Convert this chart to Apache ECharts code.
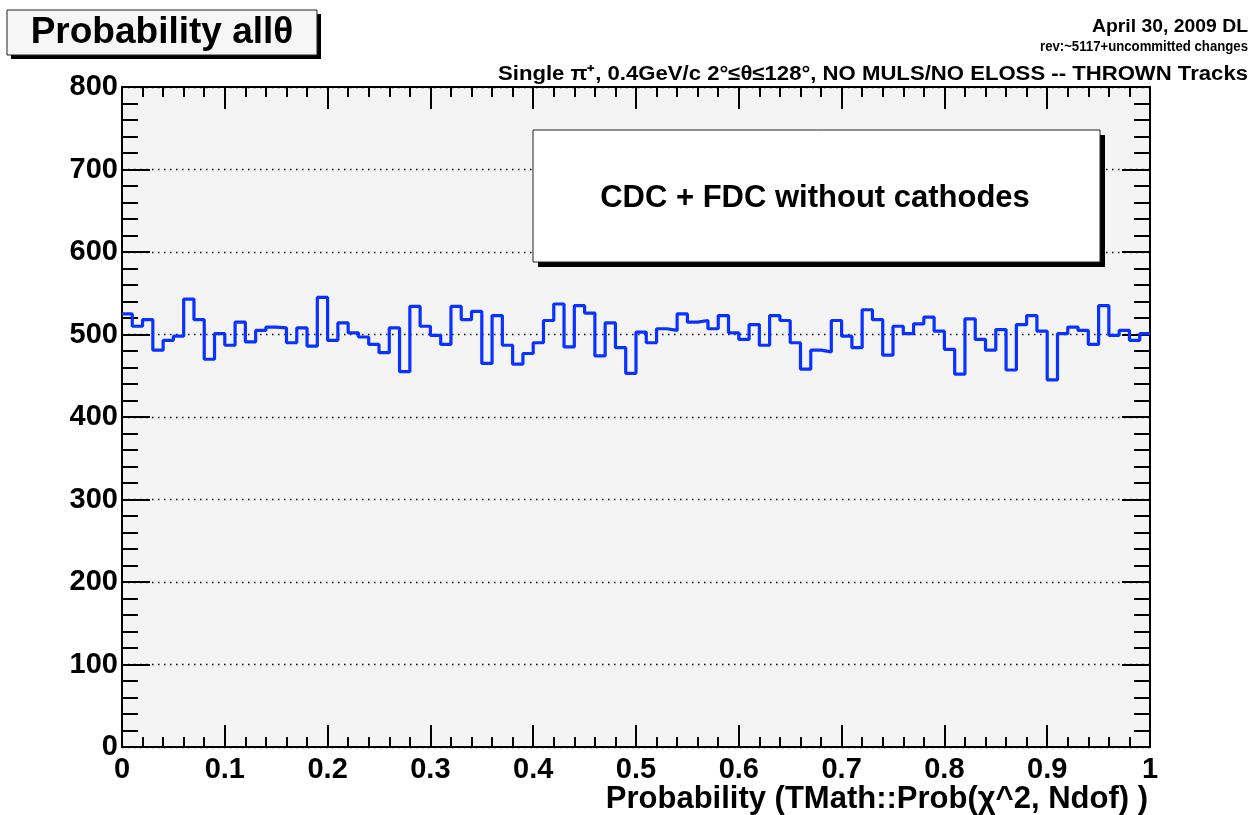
<!DOCTYPE html>
<html>
<head>
<meta charset="utf-8">
<script src="https://cdn.jsdelivr.net/npm/echarts@6/dist/echarts.min.js"></script>
<style>
  html, body { margin: 0; padding: 0; background: #fff; }
  #chart { width: 1252px; height: 815px; }
</style>
</head>
<body>
<div id="chart"></div>
<script>
// histogram: 100 bins over [0, 1], counts
const xRange = [0, 1]
const yRange = [0, 800]
const counts = [
  525, 510, 518, 481, 493, 498, 543, 518, 470, 501,
  487, 515, 491, 505, 509, 508, 490, 508, 486, 545,
  493, 514, 502, 497, 488, 478, 508, 455, 534, 510,
  499, 488, 534, 518, 528, 465, 523, 487, 464, 477,
  490, 517, 537, 485, 535, 526, 474, 514, 484, 453,
  503, 490, 507, 505, 525, 515, 517, 507, 523, 502,
  494, 512, 487, 523, 517, 490, 458, 481, 479, 517,
  498, 484, 530, 518, 475, 510, 501, 513, 521, 504,
  482, 452, 519, 494, 481, 506, 457, 512, 523, 504,
  445, 501, 509, 505, 488, 535, 499, 505, 493, 501
]
const titleText = 'Probability allθ'
const legendText = 'CDC + FDC without cathodes'
const dateText = 'April 30, 2009 DL'
const revText = 'rev:~5117+uncommitted changes'
const infoText = 'Single π⁺, 0.4GeV/c 2°≤θ≤128°, NO MULS/NO ELOSS -- THROWN Tracks'
const xTitle = 'Probability (TMath::Prob(χ^2, Ndof) )'

// step outline: left edge of each bin, plus the right edge of the last one
const binWidth = (xRange[1] - xRange[0]) / counts.length
const outline = counts.map((c, i) => [xRange[0] + i * binWidth, c])
outline.push([xRange[1], counts[counts.length - 1]])

const FONT = 'Liberation Sans, Arial, Helvetica, sans-serif'

// the header notes are in a condensed face: squeeze bold text to the width seen
const ctx = document.createElement('canvas').getContext('2d')
function squeeze(text, font, width) {
  ctx.font = font
  return width / ctx.measureText(text).width
}

var chart = echarts.init(document.getElementById('chart'))

var tickX = {
  min: xRange[0], max: xRange[1], interval: 0.1,
  axisLine: { show: true, onZero: false, lineStyle: { color: '#000', width: 2 } },
  axisTick: { show: true, inside: true, length: 22, lineStyle: { color: '#000', width: 2 } },
  minorTick: { show: true, splitNumber: 5, length: 10, lineStyle: { color: '#000', width: 2 } },
  splitLine: { show: false }
}
var tickY = {
  min: yRange[0], max: yRange[1], interval: 100,
  axisLine: { show: true, onZero: false, lineStyle: { color: '#000', width: 2 } },
  axisTick: { show: true, inside: true, length: 28, lineStyle: { color: '#000', width: 2 } },
  minorTick: { show: true, splitNumber: 5, length: 16, lineStyle: { color: '#000', width: 2 } }
}

function note(text, size, y, width) {
  var font = 'bold ' + size + 'px ' + FONT
  return {
    type: 'text', z: 102, x: 1248, y: y, scaleX: squeeze(text, font, width),
    style: { text: text, font: font, fill: '#000', align: 'right', verticalAlign: 'middle' }
  }
}

var option = {
  animation: false,
  backgroundColor: '#fff',
  grid: {
    left: 122, right: 102, top: 87, bottom: 68,
    show: true, backgroundColor: '#f4f4f4', borderColor: '#000', borderWidth: 2
  },
  xAxis: [
    Object.assign({}, tickX, {
      type: 'value', position: 'bottom',
      axisLabel: {
        margin: 8, color: '#000', fontFamily: FONT, fontWeight: 'bold', fontSize: 29,
        formatter: (v) => (v === 0 || v === 1 ? String(v) : v.toFixed(1))
      }
    }),
    Object.assign({}, tickX, { type: 'value', position: 'top', axisLabel: { show: false } })
  ],
  yAxis: [
    Object.assign({}, tickY, {
      type: 'value', position: 'left',
      axisLabel: { margin: 4, color: '#000', fontFamily: FONT, fontWeight: 'bold', fontSize: 29 },
      splitLine: { show: true, lineStyle: { color: '#000', width: 1.3, type: [1.5, 4.5] } }
    }),
    Object.assign({}, tickY, {
      type: 'value', position: 'right', axisLabel: { show: false }, splitLine: { show: false }
    })
  ],
  series: [
    {
      type: 'line',
      data: outline,
      step: 'end',
      symbol: 'none',
      lineStyle: { color: '#0a32ff', width: 3.2 },
      z: 5
    }
  ],
  graphic: [
    // title box
    { type: 'rect', z: 100, shape: { x: 11, y: 14, width: 310, height: 45 }, style: { fill: '#000' } },
    { type: 'rect', z: 101, shape: { x: 7, y: 10, width: 310, height: 45 }, style: { fill: '#f6f6f6', stroke: '#222', lineWidth: 1 } },
    {
      type: 'text', z: 102, x: 162, y: 33,
      style: { text: titleText, font: 'bold 37px ' + FONT, fill: '#000', align: 'center', verticalAlign: 'middle' }
    },
    // top-right notes
    note(dateText, 19, 27, 156),
    note(revText, 15, 47, 208),
    note(infoText, 20, 74, 750),
    // legend box
    { type: 'rect', z: 100, shape: { x: 538, y: 135, width: 567, height: 132 }, style: { fill: '#000' } },
    { type: 'rect', z: 101, shape: { x: 533, y: 130, width: 567, height: 132 }, style: { fill: '#fff', stroke: '#222', lineWidth: 1 } },
    {
      type: 'text', z: 102, x: 815, y: 198,
      style: { text: legendText, font: 'bold 31px ' + FONT, fill: '#000', align: 'center', verticalAlign: 'middle' }
    },
    // x axis title
    {
      type: 'text', z: 102, x: 1148, y: 799,
      style: { text: xTitle, font: 'bold 31px ' + FONT, fill: '#000', align: 'right', verticalAlign: 'middle' }
    }
  ]
}

chart.setOption(option)
</script>
</body>
</html>
